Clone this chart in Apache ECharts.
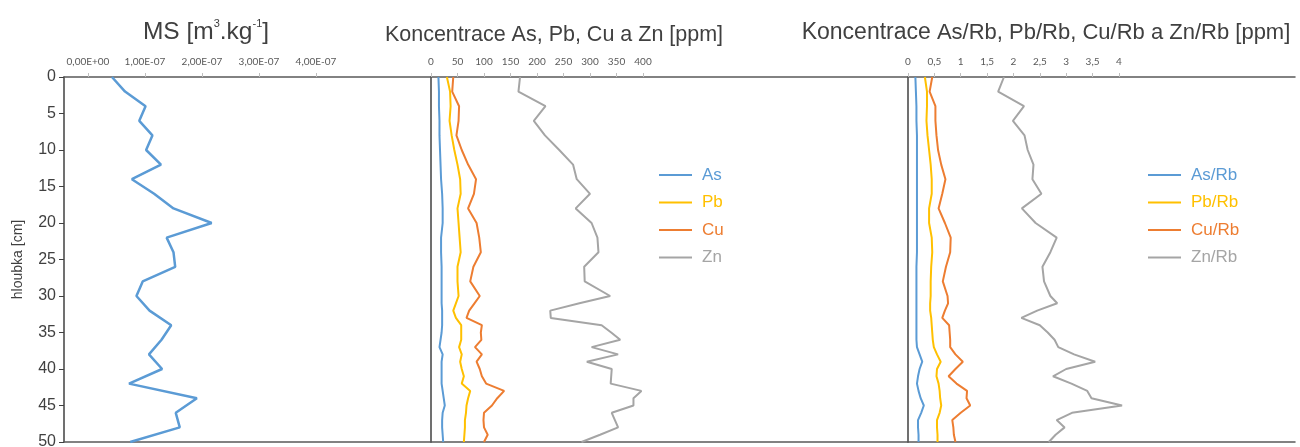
<!DOCTYPE html>
<html>
<head>
<meta charset="utf-8">
<script src="https://cdn.jsdelivr.net/npm/echarts@6/dist/echarts.min.js"></script>
<style>
  html, body { margin: 0; padding: 0; background: #fff; }
  #chart { width: 1300px; height: 447px; }
</style>
</head>
<body>
<div id="chart"></div>
<script>
// hloubka (depth, cm) for the MS profile
const msDepths = [0, 2, 4, 6, 8, 10, 12, 14, 16, 18, 20, 22, 24, 26, 28, 30, 32, 34, 36, 38, 40, 42, 44, 46, 48, 50]
// magnetic susceptibility, m3/kg
const msValues = [0.42e-7, 0.65e-7, 1.01e-7, 0.90e-7, 1.13e-7, 1.02e-7, 1.28e-7, 0.77e-7, 1.16e-7, 1.50e-7, 2.17e-7, 1.38e-7, 1.50e-7,
  1.53e-7, 0.96e-7, 0.85e-7, 1.08e-7, 1.46e-7, 1.29e-7, 1.07e-7, 1.30e-7, 0.72e-7, 1.91e-7, 1.54e-7, 1.61e-7, 0.74e-7]

// depths for the element profiles
const depths = [0, 2, 4, 6, 8, 10, 12, 14, 16, 18, 20, 22, 24, 26, 28, 30,
  31, 32, 33, 34, 35, 36, 37, 38, 39, 40, 41, 42, 43, 44, 45, 46, 47, 48, 49, 50]

// concentrations, ppm
const asPpm = [14, 15, 15, 16, 16, 17, 18, 19, 21, 22, 22, 19, 19, 20, 20, 20,
  20, 21, 21, 21, 20, 18, 16, 22, 20, 20, 20, 20, 22, 24, 26, 22, 21, 21, 22, 23]
const pbPpm = [30, 36, 37, 35, 39, 44, 50, 55, 56, 50, 52, 54, 56, 50, 50, 52,
  47, 42, 47, 57, 57, 57, 53, 58, 55, 58, 62, 58, 74, 70, 67, 66, 64, 64, 63, 62]
const cuPpm = [42, 40, 53, 52, 48, 58, 70, 85, 81, 70, 86, 91, 94, 80, 74, 92,
  82, 72, 67, 96, 94, 95, 83, 96, 86, 92, 96, 104, 138, 125, 115, 100, 99, 100, 107, 100]
const znPpm = [168, 165, 216, 194, 215, 242, 268, 275, 300, 273, 303, 314, 316, 289, 290, 338,
  280, 225, 226, 322, 340, 357, 303, 353, 294, 341, 340, 339, 397, 382, 382, 341, 347, 353, 319, 284]

// ratios to Rb
const asRb = [0.14, 0.15, 0.16, 0.16, 0.17, 0.17, 0.17, 0.17, 0.17, 0.17, 0.17, 0.17, 0.17, 0.16, 0.16, 0.16,
  0.16, 0.16, 0.16, 0.16, 0.16, 0.16, 0.17, 0.22, 0.27, 0.22, 0.19, 0.17, 0.20, 0.24, 0.30, 0.25, 0.19, 0.19, 0.20, 0.20]
const pbRb = [0.32, 0.36, 0.36, 0.35, 0.37, 0.40, 0.43, 0.45, 0.45, 0.40, 0.40, 0.45, 0.46, 0.44, 0.43, 0.43,
  0.42, 0.42, 0.44, 0.45, 0.46, 0.47, 0.49, 0.55, 0.62, 0.55, 0.54, 0.58, 0.60, 0.61, 0.63, 0.60, 0.55, 0.55, 0.56, 0.56]
const cuRb = [0.46, 0.41, 0.52, 0.52, 0.54, 0.57, 0.63, 0.71, 0.65, 0.58, 0.70, 0.81, 0.80, 0.72, 0.66, 0.75,
  0.76, 0.70, 0.65, 0.78, 0.79, 0.80, 0.80, 0.90, 1.04, 0.90, 0.77, 0.92, 1.12, 1.11, 1.18, 1.00, 0.84, 0.86, 0.87, 0.90]
const znRb = [1.82, 1.71, 2.20, 1.99, 2.21, 2.27, 2.38, 2.36, 2.53, 2.16, 2.42, 2.82, 2.70, 2.55, 2.58, 2.70,
  2.83, 2.45, 2.15, 2.50, 2.65, 2.78, 2.85, 3.15, 3.55, 3.00, 2.75, 3.10, 3.40, 3.48, 4.06, 3.11, 2.82, 2.97, 2.80, 2.67]

// tick labels on the top axes
const msTicks = [0, 1e-7, 2e-7, 3e-7, 4e-7]
const ppmTicks = [0, 50, 100, 150, 200, 250, 300, 350, 400]
const ratioTicks = [0, 0.5, 1, 1.5, 2, 2.5, 3, 3.5, 4]

const colors = { As: '#5b9bd5', Pb: '#ffc000', Cu: '#ed7d31', Zn: '#a5a5a5' }
const font = 'Liberation Sans'
const tickFont = 'Lato'

const chart = echarts.init(document.getElementById('chart'))

const pair = (vals, ds) => vals.map((v, i) => [v, ds[i]])

const topAxis = (gridIndex, min, max, ticks, fmt) => ({
  type: 'value', gridIndex, position: 'top', min, max,
  axisLine: { show: true, onZero: false, lineStyle: { color: '#595959', width: 1.5 } },
  axisTick: { show: true, customValues: ticks, length: 4, lineStyle: { color: '#bfbfbf' } },
  axisLabel: { show: true, customValues: ticks, formatter: fmt, margin: 10, fontSize: 10, color: '#595959', fontFamily: tickFont },
  splitLine: { show: false }
})
const bottomAxis = (gridIndex) => ({
  type: 'value', gridIndex, position: 'bottom', min: 0, max: 1,
  axisLine: { show: true, onZero: false, lineStyle: { color: '#595959', width: 1.5 } },
  axisTick: { show: false }, axisLabel: { show: false }, splitLine: { show: false }
})
const depthAxis = (gridIndex, labels) => ({
  type: 'value', gridIndex, inverse: true, min: 0, max: 50, interval: 5,
  name: labels ? 'hloubka [cm]' : '', nameLocation: 'middle', nameRotate: 90, nameGap: 39,
  nameTextStyle: { fontSize: 14, color: '#404040', fontFamily: font },
  axisLine: { show: true, onZero: false, lineStyle: { color: '#404040', width: 1.5 } },
  axisTick: { show: labels, length: 5, lineStyle: { color: '#404040' } },
  axisLabel: { show: labels, fontSize: 16, color: '#404040', fontFamily: font, margin: 8 },
  splitLine: { show: false }
})

const lineSeries = (name, values, ds, xAxisIndex, yAxisIndex, color, width) => ({
  name, type: 'line', data: pair(values, ds), xAxisIndex, yAxisIndex,
  showSymbol: false, symbol: 'none', animation: false,
  lineStyle: { color, width: width || 2 }, itemStyle: { color }
})

const legendItems = (names) => names.map((n, i) => ({
  name: n, textStyle: { color: Object.values(colors)[i] }
}))
const legendBase = {
  orient: 'vertical', icon: 'rect', itemWidth: 33, itemHeight: 2, itemGap: 7.5, padding: 0,
  textStyle: { fontSize: 17, fontFamily: font, lineHeight: 20, padding: [0, 0, 0, 5] }
}

const gridBase = { top: 77, height: 365, outerBoundsMode: 'none', containLabel: false }

chart.setOption({
  animation: false,
  title: [
    {
      text: 'MS [m{sup|3}.kg{sup|-1}]', left: 206, top: 18, textAlign: 'center', padding: 0,
      textStyle: {
        fontSize: 24.5, fontWeight: 'normal', color: '#404040', fontFamily: font,
        rich: { sup: { fontSize: 11, verticalAlign: 'top', color: '#404040', fontFamily: font, lineHeight: 28 } }
      }
    },
    {
      text: 'Koncentrace As, Pb, Cu a Zn [ppm]', left: 554, top: 24, textAlign: 'center', padding: 0,
      textStyle: { fontSize: 21.5, fontWeight: 'normal', color: '#404040', fontFamily: font }
    },
    {
      text: '{k|Koncentrace} As/Rb, Pb/Rb, Cu/Rb a Zn/Rb [ppm]', left: 1046, top: 21, textAlign: 'center', padding: 0,
      textStyle: {
        fontSize: 22, fontWeight: 'normal', color: '#404040', fontFamily: font,
        rich: { k: { fontSize: 23, color: '#404040', fontFamily: font } }
      }
    }
  ],
  grid: [
    Object.assign({ left: 64, width: 367 }, gridBase),
    Object.assign({ left: 431, width: 477 }, gridBase),
    Object.assign({ left: 908, width: 387 }, gridBase)
  ],
  xAxis: [
    topAxis(0, -0.421e-7, 6.018e-7, msTicks,
      v => v === 0 ? '0,00E+00' : (v / 1e-7).toFixed(2).replace('.', ',') + 'E-07'),
    topAxis(1, 0, 900, ppmTicks, v => String(v)),
    topAxis(2, 0, 7.34, ratioTicks, v => String(v).replace('.', ',')),
    bottomAxis(0), bottomAxis(1), bottomAxis(2)
  ],
  yAxis: [depthAxis(0, true), depthAxis(1, false), depthAxis(2, false)],
  legend: [
    Object.assign({}, legendBase, { left: 659, top: 165, data: legendItems(['As', 'Pb', 'Cu', 'Zn']) }),
    Object.assign({}, legendBase, { left: 1148, top: 165, data: legendItems(['As/Rb', 'Pb/Rb', 'Cu/Rb', 'Zn/Rb']) })
  ],
  series: [
    lineSeries('MS', msValues, msDepths, 0, 0, colors.As, 2.5),
    lineSeries('As', asPpm, depths, 1, 1, colors.As),
    lineSeries('Pb', pbPpm, depths, 1, 1, colors.Pb),
    lineSeries('Cu', cuPpm, depths, 1, 1, colors.Cu),
    lineSeries('Zn', znPpm, depths, 1, 1, colors.Zn),
    lineSeries('As/Rb', asRb, depths, 2, 2, colors.As),
    lineSeries('Pb/Rb', pbRb, depths, 2, 2, colors.Pb),
    lineSeries('Cu/Rb', cuRb, depths, 2, 2, colors.Cu),
    lineSeries('Zn/Rb', znRb, depths, 2, 2, colors.Zn)
  ]
})
</script>
</body>
</html>
